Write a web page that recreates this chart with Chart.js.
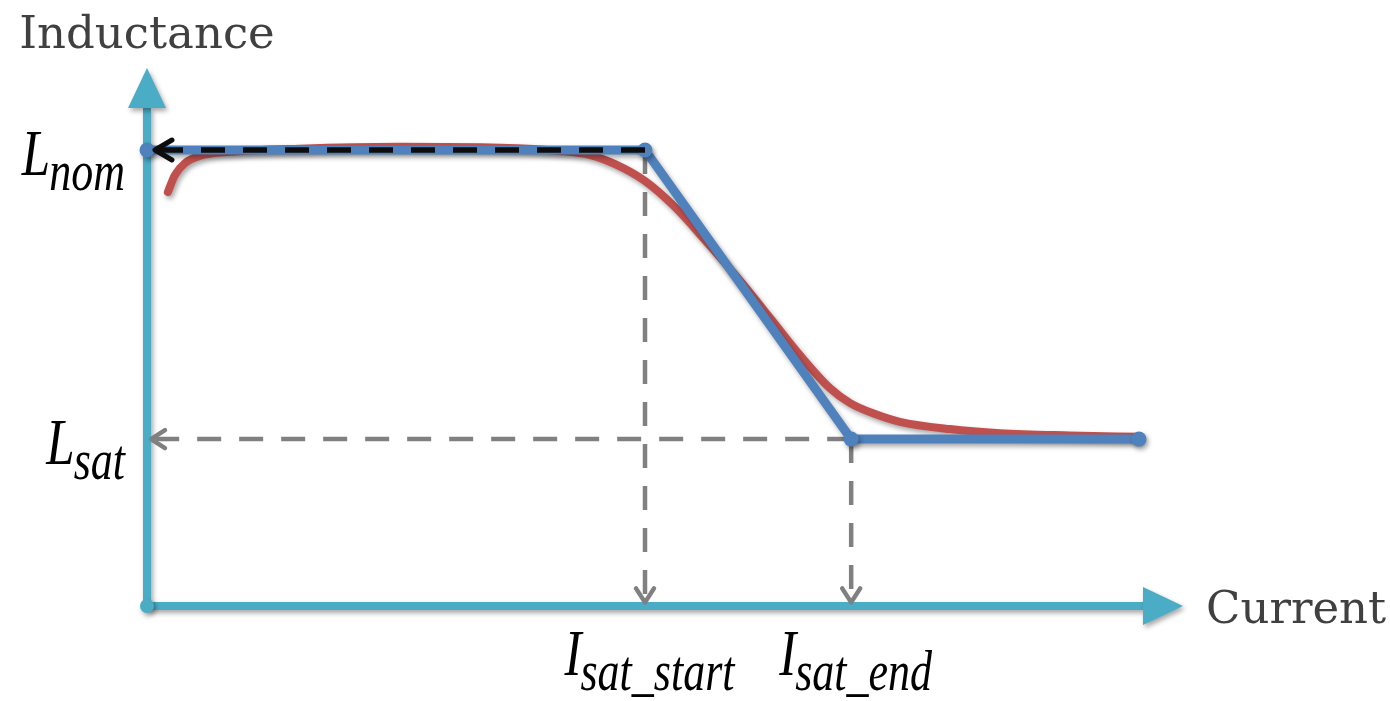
<!DOCTYPE html>
<html>
<head>
<meta charset="utf-8">
<script src="https://cdn.jsdelivr.net/npm/chart.js@4"></script>
<style>
html, body { margin: 0; padding: 0; background: #fff; }
#wrap { width: 1390px; height: 701px; }
</style>
</head>
<body>
<div id="wrap"><canvas id="chart" width="1390" height="701"></canvas></div>
<script>
// normalised units: I_sat_start = 1, L_nom = 1
const L_NOM = 1.0;
const L_SAT = 0.366;
const I_SAT_START = 1.0;
const I_SAT_END = 1.414;
const I_MAX = 1.992;

// piecewise model (blue)
const modelX = [0, I_SAT_START, I_SAT_END, I_MAX];
const modelY = [L_NOM, L_NOM, L_SAT, L_SAT];

// measured curve (red)
const measX = [0.042, 0.056, 0.076, 0.106, 0.167, 0.307, 0.508, 0.709, 0.829, 0.890, 0.940, 1.000,
               1.060, 1.120, 1.181, 1.251, 1.311, 1.371, 1.412, 1.462, 1.512, 1.612, 1.713, 1.853, 1.992];
const measY = [0.908, 0.945, 0.971, 0.987, 0.996, 1.003, 1.007, 1.005, 0.998, 0.989, 0.969, 0.932,
               0.875, 0.803, 0.726, 0.632, 0.550, 0.478, 0.445, 0.421, 0.404, 0.388, 0.379, 0.374, 0.371];

// axes (arrow heads start at these ends)
const axisXEnd = 2.0;
const axisYEnd = 1.092;
const arrowGap = 0.016;   // dashed guide arrows stop just short of the axes

// labels
const axisTitles = ['Inductance', 'Current'];
const yMarks = [{ main: 'L', sub: 'nom', value: L_NOM }, { main: 'L', sub: 'sat', value: L_SAT }];
const xMarks = [{ main: 'I', sub: 'sat_start', value: I_SAT_START }, { main: 'I', sub: 'sat_end', value: I_SAT_END }];

const pts = (xs, ys) => xs.map((x, i) => ({ x: x, y: ys[i] }));

const AXIS = '#4BACC6';
const GREY = '#808080';

// 画箭头
function drawArrow(chart, meta, arrow) {
    const ctx = chart.ctx;
    const n = meta.data.length;
    const a = meta.data[n - 2], b = meta.data[n - 1];
    let dx = b.x - a.x, dy = b.y - a.y;
    const len = Math.hypot(dx, dy);
    dx /= len; dy /= len;
    const nx = -dy, ny = dx;
    ctx.setLineDash([]);
    if (arrow.type === 'triangle') {
        ctx.fillStyle = arrow.color;
        ctx.beginPath();
        ctx.moveTo(b.x + dx * arrow.length, b.y + dy * arrow.length);
        ctx.lineTo(b.x + nx * arrow.width, b.y + ny * arrow.width);
        ctx.lineTo(b.x - nx * arrow.width, b.y - ny * arrow.width);
        ctx.closePath();
        ctx.fill();
    } else {
        ctx.strokeStyle = arrow.color;
        ctx.lineWidth = arrow.lineWidth;
        ctx.lineCap = 'round';
        ctx.lineJoin = 'round';
        ctx.beginPath();
        ctx.moveTo(b.x - dx * arrow.length + nx * arrow.width, b.y - dy * arrow.length + ny * arrow.width);
        ctx.lineTo(b.x, b.y);
        ctx.lineTo(b.x - dx * arrow.length - nx * arrow.width, b.y - dy * arrow.length - ny * arrow.width);
        ctx.stroke();
    }
}

// 数学标签 (italic letter + subscript)
const V_STRETCH = 1.3;
function mathWidth(ctx, m) {
    ctx.font = 'italic 51px "Liberation Serif"';
    const w1 = ctx.measureText(m.main).width;
    ctx.font = 'italic 44px "Liberation Serif"';
    return w1 + ctx.measureText(m.sub).width;
}
function drawMath(ctx, m, left, baseline) {
    ctx.save();
    ctx.translate(left, baseline);
    ctx.scale(1, V_STRETCH);
    ctx.fillStyle = '#000';
    ctx.textAlign = 'left';
    ctx.textBaseline = 'alphabetic';
    ctx.font = 'italic 51px "Liberation Serif"';
    ctx.fillText(m.main, 0, 0);
    const w1 = ctx.measureText(m.main).width;
    ctx.font = 'italic 44px "Liberation Serif"';
    ctx.fillText(m.sub, w1 - 1, 15 / V_STRETCH);
    ctx.restore();
}

const decorPlugin = {
    id: 'decor',
    beforeDatasetDraw(chart, args) {
        const ds = chart.data.datasets[args.index];
        const ctx = chart.ctx;
        ctx.save();
        if (ds.shadow) {
            ctx.shadowColor = 'rgba(0,0,0,0.35)';
            ctx.shadowBlur = 5;
            ctx.shadowOffsetX = 2;
            ctx.shadowOffsetY = 3;
        }
    },
    afterDatasetDraw(chart, args) {
        const ds = chart.data.datasets[args.index];
        if (ds.arrow) drawArrow(chart, args.meta, ds.arrow);
        chart.ctx.restore();
    },
    afterDraw(chart) {
        const ctx = chart.ctx;
        const xs = chart.scales.x, ys = chart.scales.y;
        ctx.save();
        ctx.fillStyle = '#404040';
        ctx.font = '45px "DejaVu Serif"';
        ctx.textBaseline = 'alphabetic';
        ctx.textAlign = 'center';
        ctx.fillText(axisTitles[0], xs.getPixelForValue(0), ys.getPixelForValue(axisYEnd) - 60);
        ctx.textAlign = 'left';
        ctx.fillText(axisTitles[1], xs.getPixelForValue(axisXEnd) + 63, ys.getPixelForValue(0) + 17);
        ctx.restore();

        yMarks.forEach(m => {
            const w = mathWidth(ctx, m);
            drawMath(ctx, m, xs.getPixelForValue(0) - 21 - w, ys.getPixelForValue(m.value) + 25);
        });
        xMarks.forEach(m => {
            const w = mathWidth(ctx, m);
            drawMath(ctx, m, xs.getPixelForValue(m.value) + 5 - w / 2, ys.getPixelForValue(0) + 69);
        });
    }
};

const ctx = document.getElementById('chart').getContext('2d');
new Chart(ctx, {
    type: 'line',
    data: {
        datasets: [
            {   // L_nom guide
                data: pts([I_SAT_START, arrowGap], [L_NOM, L_NOM]),
                borderColor: '#0d0d0d', borderWidth: 5.5, borderDash: [24, 18],
                pointRadius: 0, order: 0,
                arrow: { type: 'chevron', color: '#0d0d0d', length: 17, width: 10, lineWidth: 5 }
            },
            {   // piecewise model
                data: pts(modelX, modelY),
                borderColor: '#4F81BD', borderWidth: 9, borderJoinStyle: 'round',
                pointRadius: 7.5, pointBackgroundColor: '#4F81BD', pointBorderWidth: 0,
                order: 1, shadow: true
            },
            {   // measured curve
                data: pts(measX, measY),
                borderColor: '#C0504D', borderWidth: 8, borderCapStyle: 'round',
                cubicInterpolationMode: 'monotone', pointRadius: 0,
                order: 2, shadow: true
            },
            {   // L_sat guide
                data: pts([I_SAT_END, arrowGap / 2], [L_SAT, L_SAT]),
                borderColor: GREY, borderWidth: 4.5, borderDash: [24, 18],
                pointRadius: 0, order: 3,
                arrow: { type: 'chevron', color: GREY, length: 14, width: 9, lineWidth: 4.5 }
            },
            {   // I_sat_start guide
                data: pts([I_SAT_START, I_SAT_START], [L_NOM, arrowGap / 2]),
                borderColor: GREY, borderWidth: 4.5, borderDash: [24, 18],
                pointRadius: 0, order: 3,
                arrow: { type: 'chevron', color: GREY, length: 14, width: 9, lineWidth: 4.5 }
            },
            {   // I_sat_end guide
                data: pts([I_SAT_END, I_SAT_END], [L_SAT, arrowGap / 2]),
                borderColor: GREY, borderWidth: 4.5, borderDash: [24, 18],
                pointRadius: 0, order: 3,
                arrow: { type: 'chevron', color: GREY, length: 14, width: 9, lineWidth: 4.5 }
            },
            {   // y axis (with origin dot)
                data: pts([0, 0], [0, axisYEnd]),
                borderColor: AXIS, borderWidth: 8,
                pointRadius: [7, 0], pointBackgroundColor: AXIS, pointBorderWidth: 0,
                order: 4, shadow: true,
                arrow: { type: 'triangle', color: AXIS, length: 40, width: 19 }
            },
            {   // x axis
                data: pts([0, axisXEnd], [0, 0]),
                borderColor: AXIS, borderWidth: 8, pointRadius: 0,
                order: 5, shadow: true,
                arrow: { type: 'triangle', color: AXIS, length: 40, width: 19 }
            }
        ]
    },
    options: {
        responsive: false,
        animation: false,
        devicePixelRatio: 1,
        clip: false,
        layout: { padding: { left: 147, right: 147.4, top: 36, bottom: 95 } },
        plugins: { legend: { display: false }, tooltip: { enabled: false } },
        scales: {
            x: { type: 'linear', min: 0, max: 2.2, display: false },
            y: { type: 'linear', min: 0, max: 1.25, display: false }
        },
        elements: { line: { fill: false, tension: 0 } }
    },
    plugins: [decorPlugin]
});
</script>
</body>
</html>
